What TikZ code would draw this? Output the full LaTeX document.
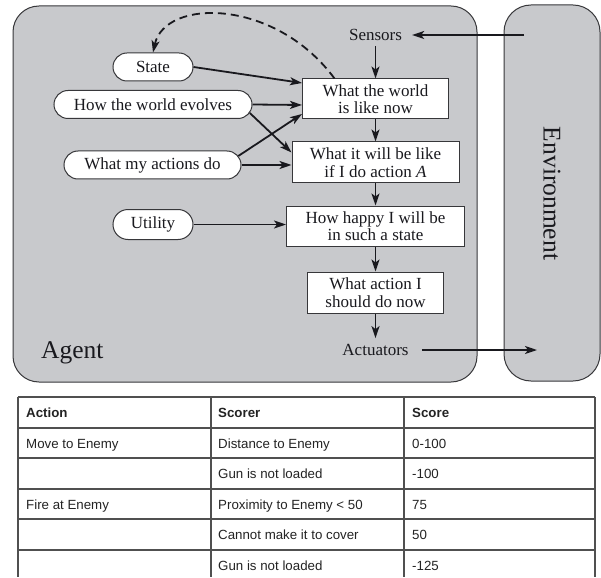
\documentclass[tikz,border=0pt]{standalone}
\usepackage{fontspec}
\setmainfont{Liberation Serif}
\newfontfamily\tablefamily{Liberation Sans}
\usetikzlibrary{arrows.meta,shapes.misc,calc}

\definecolor{agentgray}{RGB}{200,201,204}
\definecolor{edgegray}{RGB}{55,55,58}
\definecolor{gridgray}{RGB}{80,80,80}
\definecolor{inkcol}{RGB}{25,25,30}
\definecolor{tabink}{RGB}{35,35,35}

\newcommand\diagfont{\fontsize{17}{17.5}\selectfont}
\newcommand\bigfont{\fontsize{25.5}{27}\selectfont}
\newcommand\tabfont{\tablefamily\fontsize{13.3}{16}\selectfont}
\newcommand\tabboldfont{\tablefamily\bfseries\fontsize{13.3}{16}\selectfont}

\begin{document}
\begin{tikzpicture}[x=1pt,y=-1pt,
  panel/.style={draw=edgegray, line width=1pt, fill=agentgray, rounded corners=26pt},
  pill/.style={rounded rectangle, draw=edgegray, line width=1pt, fill=white,
    minimum height=28pt, inner sep=0pt, font=\diagfont, text=inkcol},
  stepbox/.style={rectangle, draw=edgegray, line width=1pt, fill=white,
    minimum height=40pt, inner sep=0pt, align=center, font=\diagfont, text=inkcol},
  port/.style={inner xsep=10pt, inner ysep=5pt, font=\diagfont, text=inkcol},
  flow/.style={draw=inkcol, line width=1.8pt, -{Stealth[length=12pt,width=8pt,inset=3pt]}},
  grid/.style={draw=gridgray, line width=1.1pt},
  cell/.style={anchor=base west, inner sep=0pt, font=\tabfont, text=tabink},
  headcell/.style={anchor=base west, inner sep=0pt, font=\tabboldfont, text=tabink}]

\useasboundingbox (0,0) rectangle (601,577);

% agent and environment panels
\path[panel] (13,6) rectangle (477,382);
\path[panel, rounded corners=27pt] (504,5) rectangle (600,381);

\node[anchor=base west, inner sep=0pt, font=\bigfont, text=inkcol] (agent) at (41,358) {Agent};
\node[rotate=-90, inner sep=0pt, font=\bigfont, text=inkcol] (env) at (552,193.5) {Environment};

% knowledge sources
\node[pill, minimum width=80pt] (state) at (153,67) {State};
\node[pill, minimum width=198pt] (evolves) at (153,104.5) {How the world evolves};
\node[pill, minimum width=177pt] (actions) at (152.5,165) {What my actions do};
\node[pill, minimum width=80pt, minimum height=30pt] (utility) at (153,224.5) {Utility};

% reasoning chain
\node[port] (sensors) at (375.5,35) {Sensors};
\node[stepbox, minimum width=146pt] (now) at (375.5,99) {What the world\\is like now};
\node[stepbox, minimum width=167pt, minimum height=41pt] (will) at (375.5,162.5) {What it will be like\\if I do action \textit{A}};
\node[stepbox, minimum width=178pt] (happy) at (375.5,226) {How happy I will be\\in such a state};
\node[stepbox, minimum width=136pt, minimum height=41pt] (choose) at (375.5,292.5) {What action I\\should do now};
\node[port, inner xsep=13pt, inner ysep=6pt] (actuators) at (375.5,350) {Actuators};

\coordinate (envin) at (524,35);
\coordinate (envout) at (537,351);

\draw[flow] (envin |- sensors.east) -- (sensors.east);
\draw[flow] (sensors.south) -- (now.north);
\draw[flow] (now.south) -- (will.north);
\draw[flow] (will.south) -- (happy.north);
\draw[flow] (happy.south) -- (choose.north);
\draw[flow] (choose.south) -- (actuators.north);
\draw[flow] (actuators.east) -- (actuators.east -| envout);

\draw[flow] (state.east) -- ([yshift=16pt]now.west);
\draw[flow] (evolves.east) -- ([yshift=-6pt]now.west);
\draw[flow] (actions.6) -- ([yshift=-15pt]now.west);
\draw[flow] (evolves.-5) -- ([yshift=10pt]will.west);
\draw[flow] (actions.east) -- (will.west |- actions.east);
\draw[flow] (utility.east) -- (happy.west |- utility.east);

\draw[flow, dash pattern=on 8pt off 5pt] ([xshift=-41pt]now.north)
  .. controls (275,-2) and (165,-2) .. (state.north);

% scoring table
\foreach \yy in {397,428,458,489,519,550} \draw[grid] (18,\yy) -- (595,\yy);
\foreach \xx in {18,211,404,595} \draw[grid] (\xx,397) -- (\xx,577);

\node[headcell] (h1) at (26,417) {Action};
\node[headcell] (h2) at (218,417) {Scorer};
\node[headcell] (h3) at (412,417) {Score};

\node[cell] (a1) at (26,448) {Move to Enemy};
\node[cell] (b1) at (218,448) {Distance to Enemy};
\node[cell] (s1) at (412,448) {0-100};

\node[cell] (b2) at (218,478) {Gun is not loaded};
\node[cell] (s2) at (412,478) {-100};

\node[cell] (a3) at (26,509) {Fire at Enemy};
\node[cell] (b3) at (218,509) {Proximity to Enemy < 50};
\node[cell] (s3) at (412,509) {75};

\node[cell] (b4) at (218,539) {Cannot make it to cover};
\node[cell] (s4) at (412,539) {50};

\node[cell] (b5) at (218,570) {Gun is not loaded};
\node[cell] (s5) at (412,570) {-125};
\end{tikzpicture}
\end{document}
